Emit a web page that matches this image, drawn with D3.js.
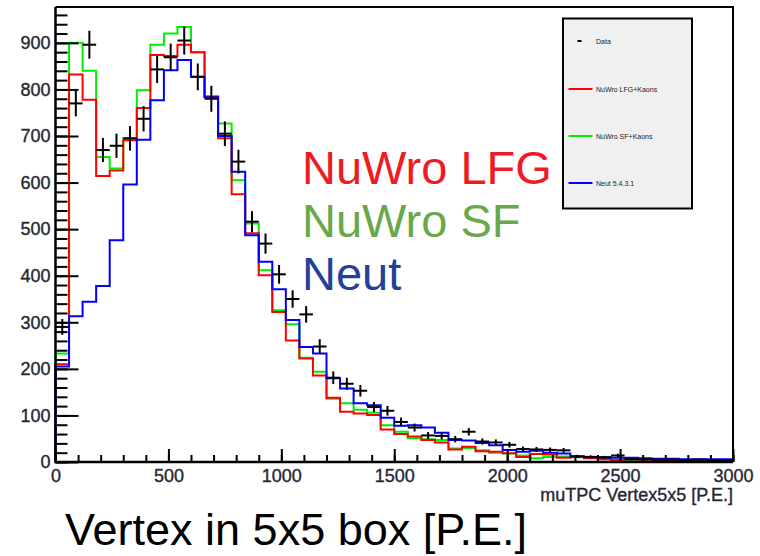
<!DOCTYPE html>
<html>
<head>
<meta charset="utf-8">
<script src="https://cdn.jsdelivr.net/npm/d3@7"></script>
<style>
  html, body { margin: 0; padding: 0; background: #ffffff; }
  svg { display: block; }
</style>
</head>
<body>
<svg id="chart" width="760" height="556"></svg>
<script>
// Histogram binning: 50 bins of 60 P.E. from 0 to 3000
const binWidth = 60;
const xMax = 3000;

// Measured events per bin
const dataCounts = [
  290, 770, 896, 670, 679, 695, 737, 843, 869, 905,
  827, 780, 705, 645, 516, 469, 403, 350, 317, 248,
  181, 168, 153, 118, 110, 86, 74, 57, 56, 49,
  65, 44, 42, 37, 28, 27, 26, 25, 12, 11,
  10, 14, 6, 6, 5, 5, 4, 5, 4, 4
];

// NuWro LFG + Kaons prediction
const nuwroLFG = [
  210, 832, 778, 614, 626, 691, 760, 874, 872, 896,
  880, 784, 695, 575, 491, 401, 322, 261, 222, 186,
  138, 108, 104, 101, 70, 60, 55, 47, 42, 27,
  33, 23, 22, 19, 11, 17, 16, 9, 12, 8,
  6, 4, 6, 5, 3, 3, 3, 5, 4, 4
];

// NuWro SF + Kaons prediction
const nuwroSF = [
  233, 900, 840, 655, 630, 695, 798, 896, 920, 934,
  880, 786, 727, 605, 512, 412, 326, 296, 224, 194,
  136, 126, 112, 106, 79, 65, 51, 49, 47, 29,
  30, 25, 20, 18, 14, 8, 11, 12, 10, 9,
  8, 5, 5, 4, 4, 3, 3, 3, 3, 2
];

// Neut prediction
const neut = [
  205, 313, 344, 378, 476, 596, 692, 777, 841, 863,
  827, 783, 700, 623, 487, 430, 371, 305, 247, 233,
  180, 158, 126, 122, 95, 78, 79, 74, 63, 47,
  46, 41, 36, 26, 22, 24, 20, 18, 12, 10,
  10, 9, 9, 8, 7, 7, 6, 6, 6, 6
];

const xTickLabels = [0, 500, 1000, 1500, 2000, 2500, 3000];
const yTickLabels = [0, 100, 200, 300, 400, 500, 600, 700, 800, 900];

const legendLabels = ["Data", "NuWro LFG+Kaons", "NuWro SF+Kaons", "Neut 5.4.3.1"];
const seriesColors = ["#000000", "#ff0000", "#00ee00", "#0000ff"];

const overlayLabels = ["NuWro LFG", "NuWro SF", "Neut"];
const overlayColors = ["#ed1c24", "#68a84a", "#23409a"];

// Frame geometry
const frame = { left: 55.5, right: 733, top: 7, bottom: 462 };

const svg = d3.select("#chart");
const x = d3.scaleLinear().domain([0, xMax]).range([frame.left, frame.right]);
const y = d3.scaleLinear().domain([0, 977]).range([frame.bottom, frame.top]);

const font = "'Liberation Sans', Arial, Helvetica, sans-serif";
const axisTextColor = "#262633";

function styleAxisText(sel) {
  sel.attr("font-family", font).attr("font-size", 18)
    .attr("fill", axisTextColor)
    .attr("stroke", axisTextColor).attr("stroke-width", 0.35);
}

// Step outline of a histogram
const step = d3.line()
  .x(d => x(d[0]))
  .y(d => y(d[1]))
  .curve(d3.curveStepAfter);

function histPoints(vals) {
  const pts = [[0, 0]];
  vals.forEach((v, i) => pts.push([i * binWidth, v]));
  pts.push([xMax, vals[vals.length - 1]]);
  pts.push([xMax, 0]);
  return pts;
}

const plot = svg.append("g");

// Draw order: SF, LFG, Neut, then data on top
[[nuwroSF, seriesColors[2]], [nuwroLFG, seriesColors[1]], [neut, seriesColors[3]]].forEach(([vals, col]) => {
  plot.append("path")
    .attr("d", step(histPoints(vals)))
    .attr("fill", "none")
    .attr("stroke", col)
    .attr("stroke-width", 2);
});

// Data crosses: full bin width horizontally, Poisson error vertically
const crosses = plot.append("g").attr("stroke", "#000").attr("stroke-width", 2);
dataCounts.forEach((v, i) => {
  const lo = i * binWidth, hi = (i + 1) * binWidth, mid = lo + binWidth / 2;
  const err = Math.sqrt(v);
  crosses.append("line")
    .attr("x1", x(lo)).attr("x2", x(hi))
    .attr("y1", y(v)).attr("y2", y(v));
  crosses.append("line")
    .attr("x1", x(mid)).attr("x2", x(mid))
    .attr("y1", y(Math.max(0, v - err))).attr("y2", y(v + err));
});

// Frame: top and right edges
svg.append("path")
  .attr("d", `M${frame.left},${frame.top}H${frame.right}V${frame.bottom}`)
  .attr("fill", "none").attr("stroke", "#000").attr("stroke-width", 2);

// Y axis: ticks pointing into the frame
const yMinor = d3.range(0, 977, 20);
svg.append("g")
  .attr("transform", `translate(${frame.left},0)`)
  .call(d3.axisLeft(y).tickValues(yMinor).tickSize(-12).tickFormat(""))
  .call(g => g.select(".domain").remove())
  .call(g => g.selectAll("line").attr("stroke", "#000").attr("stroke-width", 2));

svg.append("g")
  .attr("transform", `translate(${frame.left},0)`)
  .call(d3.axisLeft(y).tickValues(yTickLabels).tickSize(-23).tickPadding(5).tickFormat(d3.format("d")))
  .call(g => g.select(".domain").remove())
  .call(g => g.selectAll("line").attr("stroke", "#000").attr("stroke-width", 2))
  .call(g => styleAxisText(g.selectAll("text")));

// X axis
const xMinor = d3.range(0, xMax + 1, 100);
svg.append("g")
  .attr("transform", `translate(0,${frame.bottom})`)
  .call(d3.axisBottom(x).tickValues(xMinor).tickSize(-7).tickFormat(""))
  .call(g => g.select(".domain").remove())
  .call(g => g.selectAll("line").attr("stroke", "#000").attr("stroke-width", 2));

svg.append("g")
  .attr("transform", `translate(0,${frame.bottom})`)
  .call(d3.axisBottom(x).tickValues(xTickLabels).tickSize(-13).tickPadding(7).tickFormat(d3.format("d")))
  .call(g => g.select(".domain").remove())
  .call(g => g.selectAll("line").attr("stroke", "#000").attr("stroke-width", 2))
  .call(g => styleAxisText(g.selectAll("text")));

// Axis lines
svg.append("path")
  .attr("d", `M${frame.left},${frame.top}V${frame.bottom}H${frame.right}`)
  .attr("fill", "none").attr("stroke", "#000").attr("stroke-width", 2.5);

// X axis title
svg.append("text")
  .attr("x", frame.right).attr("y", 501)
  .attr("text-anchor", "end")
  .call(styleAxisText)
  .text("muTPC Vertex5x5 [P.E.]");

// Legend box
const legend = svg.append("g");
legend.append("rect")
  .attr("x", 563).attr("y", 18.5).attr("width", 129).attr("height", 190)
  .attr("fill", "#f0f0f0").attr("stroke", "#000").attr("stroke-width", 2);

const legendY = [41, 89, 136, 183];
legendLabels.forEach((lab, i) => {
  if (i === 0) {
    legend.append("line")
      .attr("x1", 577.5).attr("x2", 581.5).attr("y1", legendY[i]).attr("y2", legendY[i])
      .attr("stroke", "#000").attr("stroke-width", 2);
  } else {
    legend.append("line")
      .attr("x1", 568.5).attr("x2", 592.5).attr("y1", legendY[i]).attr("y2", legendY[i])
      .attr("stroke", seriesColors[i]).attr("stroke-width", 2);
  }
  legend.append("text")
    .attr("x", 596).attr("y", legendY[i] + 2.5)
    .attr("font-family", font).attr("font-size", 7).attr("fill", "#222")
    .text(lab);
});

// Large model labels
overlayLabels.forEach((lab, i) => {
  svg.append("text")
    .attr("x", 302).attr("y", 184 + i * 53)
    .attr("font-family", font).attr("font-size", 47).attr("fill", overlayColors[i])
    .text(lab);
});

// Caption under the plot
svg.append("text")
  .attr("x", 65).attr("y", 545)
  .attr("font-family", font).attr("font-size", 45).attr("fill", "#000")
  .text("Vertex in 5x5 box [P.E.]");
</script>
</body>
</html>
